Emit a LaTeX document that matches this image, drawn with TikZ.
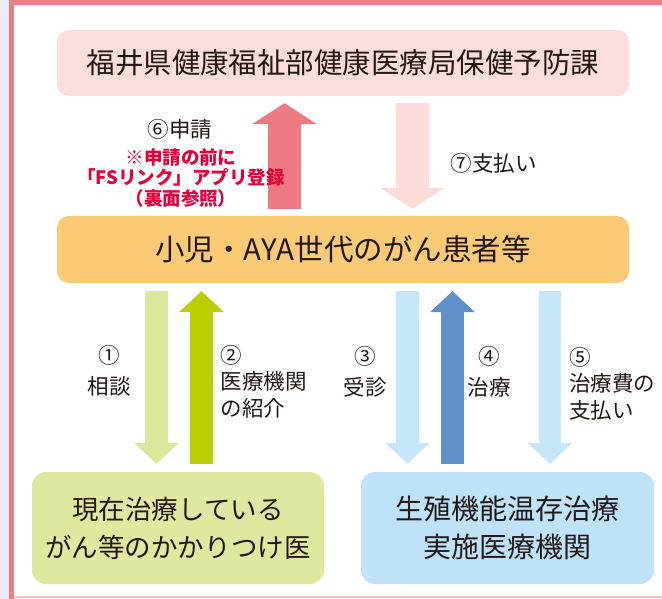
\documentclass[tikz,border=0pt]{standalone}
\usepackage{fontspec}
\setmainfont{Noto Sans CJK JP}
\usetikzlibrary{arrows.meta}

\definecolor{lavender}{RGB}{235,236,247}
\definecolor{frame}{RGB}{238,125,134}
\definecolor{edge}{RGB}{246,192,198}
\definecolor{toppink}{RGB}{251,222,220}
\definecolor{midorange}{RGB}{250,203,116}
\definecolor{grnbox}{RGB}{223,232,158}
\definecolor{blubox}{RGB}{190,227,248}
\definecolor{redarr}{RGB}{237,122,130}
\definecolor{pinkarr}{RGB}{251,220,219}
\definecolor{grnlt}{RGB}{221,231,155}
\definecolor{grn}{RGB}{187,207,0}
\definecolor{blult}{RGB}{198,230,249}
\definecolor{blu}{RGB}{95,144,201}
\definecolor{alert}{RGB}{228,0,58}
\definecolor{ink}{RGB}{35,24,21}

\begin{document}
\begin{tikzpicture}[x=1pt,y=-1pt,
	box/.style={rounded corners=12pt,inner sep=0pt,text=ink,align=center,
		font=\fontsize{28.5}{38}\selectfont},
	numtext/.style={inner sep=0pt,text=ink,font=\fontsize{21.5}{26.5}\selectfont},
	note/.style={inner sep=0pt,align=center,font=\bfseries\fontsize{18.5}{20.5}\selectfont},
	bigarrow/.style={line width=33pt,shorten <=7pt,shorten >=7pt,
		-{Triangle[width=65pt,length=21pt,line width=0pt]}},
	smallarrow/.style={line width=22.5pt,shorten <=8pt,shorten >=8pt,
		-{Triangle[width=45pt,length=21pt,line width=0pt]}}]

				% paper, frame and the strip at the bottom
				\useasboundingbox (0,0) rectangle (662,599);
				\fill[lavender] (0,0) rectangle (9,599);
				\fill[white] (9,0) rectangle (662,599);
				\fill[frame] (9,0) rectangle (14,599);
				\fill[frame] (9,0) rectangle (662,5.5);
				\fill[edge] (14,596) rectangle (662,597.5);

				% the four boxes
				\node[box,fill=toppink,minimum width=572pt,minimum height=66pt] (pref) at (343,63)
					{福井県健康福祉部健康医療局保健予防課};
				\node[box,fill=midorange,minimum width=572pt,minimum height=67pt,
					font=\fontsize{29.5}{38}\selectfont] (mid) at (343,249.5)
					{小児・AYA世代のがん患者等};
				\node[box,rounded corners=14pt,fill=grnbox,minimum width=292pt,minimum height=112pt,
					font=\fontsize{26.5}{38}\selectfont] (bl) at (178,528)
					{現在治療している\\がん等のかかりつけ医};
				\node[box,rounded corners=14pt,fill=blubox,minimum width=293pt,minimum height=112pt,
					font=\fontsize{28}{38}\selectfont] (br) at (507.5,528)
					{生殖機能温存治療\\実施医療機関};

				% the two arrows between the office and the patients
				\coordinate (c6) at (284.5,0);
				\coordinate (c7) at (412.5,0);
				\draw[bigarrow,draw=redarr] (c6 |- mid.north) -- (c6 |- pref.south);
				\draw[bigarrow,draw=pinkarr] (c7 |- pref.south) -- (c7 |- mid.north);

				% the arrows down to the two clinics and back
				\foreach \x/\src/\dst/\col in {
					156.5/mid.south/bl.north/grnlt,
					201.5/bl.north/mid.south/grn,
					407.5/mid.south/br.north/blult,
					452.5/br.north/mid.south/blu,
					550/mid.south/br.north/blult} {
					\coordinate (c) at (\x,0);
					\draw[smallarrow,draw=\col] (c |- \src) -- (c |- \dst);
				}

				% the labels of the steps
				\node[numtext] (l6) at (180,129.5) {⑥申請};
				\node[note,text=alert] (n6) at (181,178)
					{※申請の前に\\「FSリンク」アプリ登録\\（裏面参照）};
				\node[numtext] (l7) at (493.7,163.3) {⑦支払い};

				\node[numtext,align=center] (l1) at (109,371) {①\\[5pt]相談};
				\node[numtext,align=left,anchor=west] (l2) at (220.5,381.5) {②\\医療機関\\の紹介};
				\node[numtext,align=center] (l3) at (365,372) {③\\[4pt]受診};
				\node[numtext,align=center] (l4) at (489,372) {④\\[4pt]治療};
				\node[numtext,align=left,anchor=west] (l5) at (569,383.5) {⑤\\治療費の\\支払い};
			\end{tikzpicture}
\end{document}
